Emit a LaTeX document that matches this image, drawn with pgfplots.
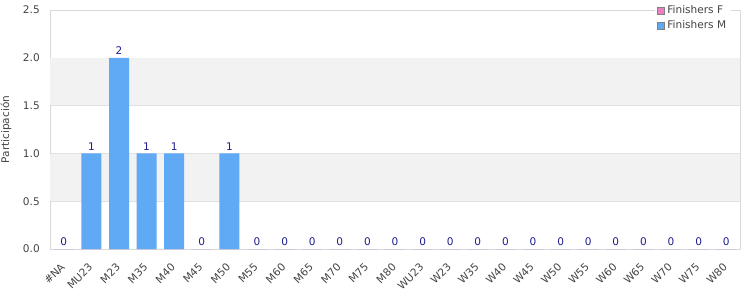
\documentclass[border=0pt]{standalone}
\usepackage{fontspec}
\setmainfont{DejaVu Sans}
\usepackage{pgfplots}
\pgfplotsset{compat=1.18}
\definecolor{barM}{RGB}{96,169,245}
\definecolor{barF}{RGB}{236,128,192}
\definecolor{lab}{RGB}{30,30,140}
\definecolor{tickc}{RGB}{68,68,68}
\definecolor{framec}{RGB}{217,217,217}
\definecolor{gridc}{RGB}{225,225,225}
\definecolor{band}{RGB}{242,242,242}
\newcommand{\ff}{\fontsize{7.9}{9.4}\selectfont}
\begin{document}
\begin{tikzpicture}
\path[use as bounding box] (-37.5pt,-38.25pt) rectangle (525pt,186.75pt);
\begin{axis}[
  at={(0,0)}, anchor=south west,
  width=517.5pt, height=179.25pt, scale only axis,
  xmin=-0.5, xmax=24.5, ymin=0, ymax=2.5,
  xtick={0,...,24},
  xticklabels={\#NA,MU23,M23,M35,M40,M45,M50,M55,M60,M65,M70,M75,M80,WU23,W23,W35,W40,W45,W50,W55,W60,W65,W70,W75,W80},
  ytick={0,0.5,1,1.5,2,2.5},
  yticklabel style={/pgf/number format/fixed, /pgf/number format/fixed zerofill, /pgf/number format/precision=1},
  /pgf/number format/assume math mode=true,
  tick label style={font=\ff, text=tickc},
  xticklabel style={rotate=45, anchor=north east, inner sep=0pt, yshift=-5pt, xshift=-9pt},
  yticklabel style={inner sep=0pt, xshift=-7.5pt},
  major tick length=0pt,
  axis line style={framec},
  ymajorgrids, grid style={gridc},
  ylabel={Participación},
  ylabel style={font=\ff, text=tickc, at={(axis description cs:-0.0638,0.5)}, anchor=center},
  legend style={at={(axis description cs:0.988,1.042)}, anchor=north east, draw=none, fill=white,
    font=\ff, text=tickc, inner sep=2pt, row sep=0pt,
    cells={anchor=west}},
  legend image code/.code={\draw[#1, draw=gray] (0pt,-2.6pt) rectangle (5.25pt,2.6pt);},
]
\addplot[fill=band, draw=none, forget plot] coordinates {(-0.5,0.503) (24.5,0.503) (24.5,0.997) (-0.5,0.997)} -- cycle;
\addplot[fill=band, draw=none, forget plot] coordinates {(-0.5,1.503) (24.5,1.503) (24.5,1.997) (-0.5,1.997)} -- cycle;
\addplot[ybar, bar width=15pt, bar shift=0pt, fill=barF, draw=none] coordinates {
(0,0) (1,0) (2,0) (3,0) (4,0) (5,0) (6,0) (7,0) (8,0) (9,0) (10,0) (11,0) (12,0)
(13,0) (14,0) (15,0) (16,0) (17,0) (18,0) (19,0) (20,0) (21,0) (22,0) (23,0) (24,0)};
\addlegendentry{Finishers F}
\addplot[ybar, bar width=15pt, bar shift=0pt, fill=barM, draw=none, nodes near coords,
  every node near coord/.append style={font=\ff, text=lab, inner sep=2pt, anchor=south}] coordinates {
(0,0) (1,1) (2,2) (3,1) (4,1) (5,0) (6,1) (7,0) (8,0) (9,0) (10,0) (11,0) (12,0)
(13,0) (14,0) (15,0) (16,0) (17,0) (18,0) (19,0) (20,0) (21,0) (22,0) (23,0) (24,0)};
\addlegendentry{Finishers M}
\end{axis}
\end{tikzpicture}
\end{document}
